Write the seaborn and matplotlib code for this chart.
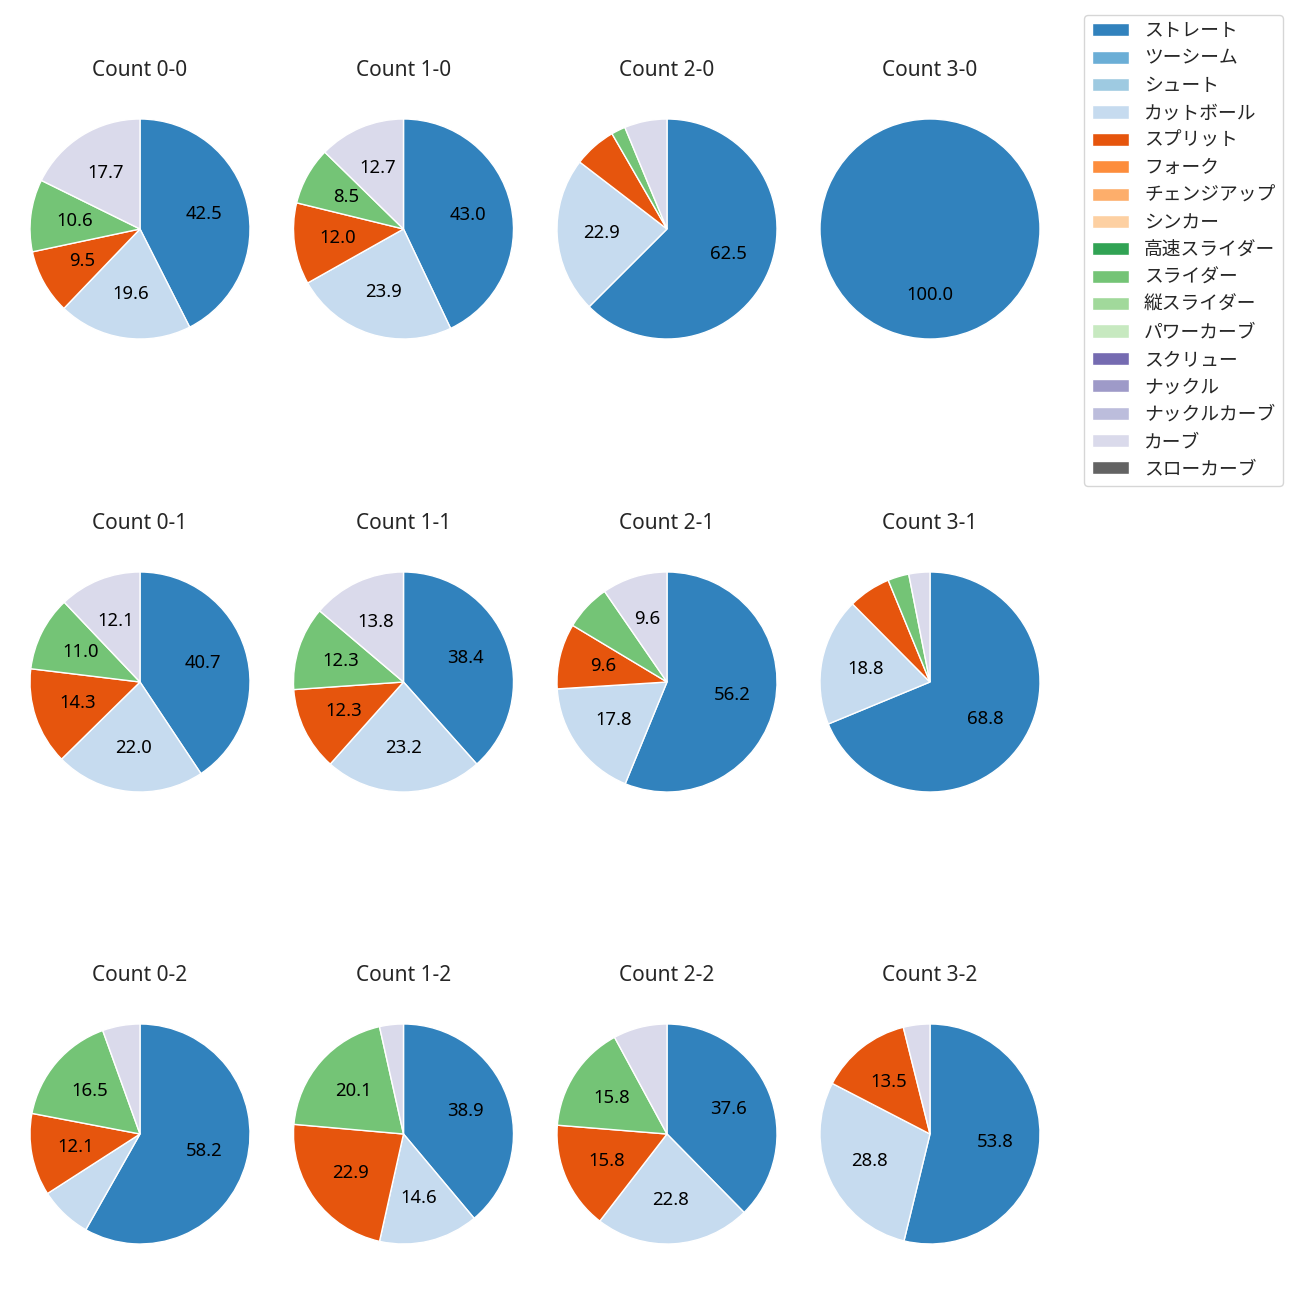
import matplotlib
matplotlib.use('Agg')
import matplotlib.pyplot as plt
import seaborn as sns
from matplotlib.patches import Patch

sns.set_theme(style='white')
plt.rcParams['font.family'] = ['Noto Sans', 'Noto Sans CJK JP', 'DejaVu Sans']

# pitch types and colours (tab20c order)
pitch_types = ['ストレート', 'ツーシーム', 'シュート', 'カットボール', 'スプリット', 'フォーク',
               'チェンジアップ', 'シンカー', '高速スライダー', 'スライダー', '縦スライダー',
               'パワーカーブ', 'スクリュー', 'ナックル', 'ナックルカーブ', 'カーブ', 'スローカーブ']
pitch_colors = ['#3182bd', '#6baed6', '#9ecae1', '#c6dbef', '#e6550d', '#fd8d3c',
                '#fdae6b', '#fdd0a2', '#31a354', '#74c476', '#a1d99b', '#c7e9c0',
                '#756bb1', '#9e9ac8', '#bcbddc', '#dadaeb', '#636363']

# share (%) per count: ストレート, カットボール, スプリット, スライダー, カーブ
used_types = ['ストレート', 'カットボール', 'スプリット', 'スライダー', 'カーブ']
counts = ['0-0', '1-0', '2-0', '3-0',
          '0-1', '1-1', '2-1', '3-1',
          '0-2', '1-2', '2-2', '3-2']
c00 = [42.5, 19.6, 9.5, 10.6, 17.7]
c10 = [43.0, 23.9, 12.0, 8.5, 12.7]
c20 = [62.5, 22.9, 6.25, 2.08, 6.25]
c30 = [100.0, 0, 0, 0, 0]
c01 = [40.7, 22.0, 14.3, 11.0, 12.1]
c11 = [38.4, 23.2, 12.3, 12.3, 13.8]
c21 = [56.2, 17.8, 9.6, 6.8, 9.6]
c31 = [68.8, 18.8, 6.25, 3.1, 3.1]
c02 = [58.2, 7.7, 12.1, 16.5, 5.5]
c12 = [38.9, 14.6, 22.9, 20.1, 3.5]
c22 = [37.6, 22.8, 15.8, 15.8, 7.9]
c32 = [53.8, 28.8, 13.5, 0, 3.9]
shares = [c00, c10, c20, c30, c01, c11, c21, c31, c02, c12, c22, c32]

color_map = dict(zip(pitch_types, pitch_colors))

fig = plt.figure(figsize=(13, 13), dpi=100)
W, H = 1300, 1300
col_x = [140, 403.5, 667, 930]
row_y = [229, 682, 1134]
size = 275

for i, (cnt, vals) in enumerate(zip(counts, shares)):
    cx = col_x[i % 4]
    cy = row_y[i // 4]
    ax = fig.add_axes([(cx - size / 2) / W, 1 - (cy + size / 2) / H, size / W, size / H])
    v = [x for x in vals if x > 0]
    cols = [color_map[t] for t, x in zip(used_types, vals) if x > 0]
    ax.pie(v, colors=cols, startangle=90, counterclock=False,
           autopct=lambda p: f'{p:.1f}' if p >= 8 else '',
           pctdistance=0.6, textprops={'fontsize': 13.3, 'color': 'black'})
    ax.set_xlim(-1.25, 1.25)
    ax.set_ylim(-1.25, 1.25)
    ax.set_title(f'Count {cnt}', fontsize=15, pad=11)

handles = [Patch(facecolor=c, label=t) for t, c in zip(pitch_types, pitch_colors)]
fig.legend(handles=handles, loc='upper right', bbox_to_anchor=(0.994, 0.9957),
           fontsize=13.5, frameon=True, edgecolor='#cccccc')

fig.savefig('out.png', dpi=100)
